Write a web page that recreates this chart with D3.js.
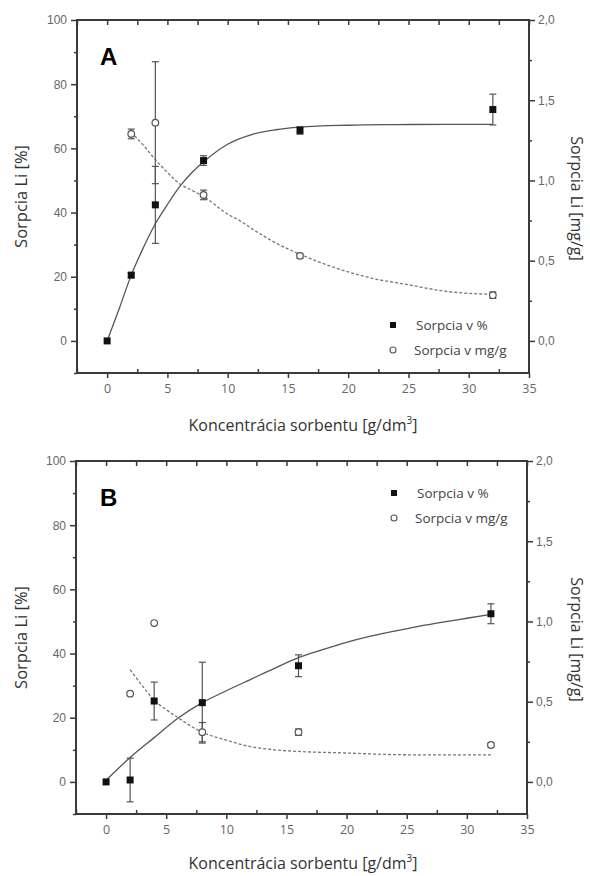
<!DOCTYPE html>
<html><head><meta charset="utf-8">
<script src="https://cdn.jsdelivr.net/npm/d3@7"></script>
<style>html,body{margin:0;padding:0;background:#fff;}svg{display:block;}</style>
</head><body>
<svg id="chart" width="590" height="876"></svg>
<script>
// ---------- data ----------
const xTicks = [0,5,10,15,20,25,30,35];
const leftTicks = [0,20,40,60,80,100];
const rightTicks = [0,0.5,1.0,1.5,2.0];
const rightTickLabels = ["0,0","0,5","1,0","1,5","2,0"];

// Panel A
const concA = [0,2,4,8,16,32];
const pctA = [0,20.5,42.4,56.2,65.6,72.1];
const pctErrA = [0,0.8,12,1.5,1.2,4.8];
const mgConcA = [2,4,8,16,32];
const mgA = [1.29,1.36,0.91,0.53,0.285];
const mgErrA = [0.03,0.38,0.03,0.015,0.02];
const fitPctXA = [0,1,2,3,4,5,6,7,8,10,12,14,16,20,24,28,32];
const fitPctYA = [0,10,20.5,29,36.5,42.5,48,52.3,55.8,61.3,64.3,65.8,66.6,67.2,67.4,67.5,67.5];
const fitMgXA = [2,3,4,5,6,7,8,10,11,12,14,16,18,20,22,25,28,32];
const fitMgYA = [1.30,1.22,1.13,1.05,0.98,0.94,0.90,0.79,0.75,0.70,0.61,0.54,0.48,0.43,0.39,0.35,0.31,0.29];

// Panel B
const concB = [0,2,4,8,16,32];
const pctB = [0,0.6,25.2,24.7,36.2,52.4];
const pctErrB = [0,6.8,5.9,12.6,3.4,3.1];
const mgConcB = [2,4,8,16,32];
const mgB = [0.55,0.99,0.31,0.31,0.23];
const mgErrB = [0,0,0.06,0.02,0.01];
const fitPctXB = [0,2,4,6,8,10,12,14,16,18,20,22,24,26,28,30,32];
const fitPctYB = [0.5,7.6,13.8,19.9,24.7,28.4,31.9,35.4,38.7,41.2,43.5,45.4,47,48.5,49.8,51,52.2];
const fitMgXB = [2,3,4,5,6,7,8,10,12,14,16,20,24,28,32];
const fitMgYB = [0.70,0.60,0.51,0.45,0.40,0.35,0.31,0.26,0.22,0.20,0.19,0.18,0.17,0.168,0.168];

const panels = [
  {label:"A", left:77, right:529, top:20, bottom:373, conc:concA, pct:pctA, pctErr:pctErrA,
   mgConc:mgConcA, mg:mgA, mgErr:mgErrA, fpx:fitPctXA, fpy:fitPctYA, fmx:fitMgXA, fmy:fitMgYA,
   legendX:393, legendY:325, titleY:431},
  {label:"B", left:76, right:527, top:461, bottom:814, conc:concB, pct:pctB, pctErr:pctErrB,
   mgConc:mgConcB, mg:mgB, mgErr:mgErrB, fpx:fitPctXB, fpy:fitPctYB, fmx:fitMgXB, fmy:fitMgYB,
   legendX:394, legendY:493, titleY:869}
];

const svg = d3.select("#chart");
const axisCol = "#3a3a3a", tickTxt = "#666";
const sansA = "'Liberation Sans', Arial, sans-serif";
const sansC = "'Open Sans', 'Noto Sans', sans-serif";

panels.forEach(p => {
  const g = svg.append("g");
  const x = d3.scaleLinear().domain([-2.5,35]).range([p.left,p.right]);
  const yL = d3.scaleLinear().domain([-10,100]).range([p.bottom,p.top]);
  const yR = d3.scaleLinear().domain([-0.2,2.0]).range([p.bottom,p.top]);

  const xMinor = d3.range(-2.5,35.01,2.5).filter(v=>Math.abs(v%5)>0.01);
  const yMinor = d3.range(-10,100.01,10).filter(v=>Math.abs(v%20)>0.01);
  const rMinor = [0.25,0.75,1.25,1.75];

  // bottom axis
  const bx = g.append("g").attr("transform",`translate(0,${p.bottom})`)
    .call(d3.axisBottom(x).tickValues(xTicks).tickSize(5).tickPadding(6).tickFormat(d3.format("d")));
  bx.select(".domain").remove();
  bx.selectAll("line").attr("stroke",axisCol).attr("stroke-width",1.5);
  bx.selectAll("text").attr("fill",tickTxt).style("font-family",sansC).style("font-size","12.5px");
  g.append("g").attr("transform",`translate(0,${p.bottom})`)
    .call(d3.axisBottom(x).tickValues(xMinor).tickSize(-4).tickFormat(""))
    .call(s=>{s.select(".domain").remove(); s.selectAll("line").attr("stroke",axisCol).attr("stroke-width",1.5);});
  // top axis (ticks inward)
  g.append("g").attr("transform",`translate(0,${p.top})`)
    .call(d3.axisTop(x).tickValues(xTicks.concat(xMinor)).tickSize(-5).tickFormat(""))
    .call(s=>{s.select(".domain").remove(); s.selectAll("line").attr("stroke",axisCol).attr("stroke-width",1.5);});

  // left axis
  const la = g.append("g").attr("transform",`translate(${p.left},0)`)
    .call(d3.axisLeft(yL).tickValues(leftTicks).tickSize(6).tickPadding(4));
  la.select(".domain").remove();
  la.selectAll("line").attr("stroke",axisCol).attr("stroke-width",1.5);
  la.selectAll("text").attr("fill",tickTxt).style("font-family",sansA).style("font-size","12px");
  g.append("g").attr("transform",`translate(${p.left},0)`)
    .call(d3.axisLeft(yL).tickValues(yMinor).tickSize(3).tickFormat(""))
    .call(s=>{s.select(".domain").remove(); s.selectAll("line").attr("stroke",axisCol).attr("stroke-width",1.5);});

  // right axis
  const ra = g.append("g").attr("transform",`translate(${p.right},0)`)
    .call(d3.axisRight(yR).tickValues(rightTicks).tickSize(6).tickPadding(3)
      .tickFormat((d,i)=>rightTickLabels[i]));
  ra.select(".domain").remove();
  ra.selectAll("line").attr("stroke",axisCol).attr("stroke-width",1.5);
  ra.selectAll("text").attr("fill",tickTxt).style("font-family",sansA).style("font-size","12px");
  g.append("g").attr("transform",`translate(${p.right},0)`)
    .call(d3.axisRight(yR).tickValues(rMinor).tickSize(3).tickFormat(""))
    .call(s=>{s.select(".domain").remove(); s.selectAll("line").attr("stroke",axisCol).attr("stroke-width",1.5);});

  // frame
  g.append("rect").attr("x",p.left).attr("y",p.top)
    .attr("width",p.right-p.left).attr("height",p.bottom-p.top)
    .attr("fill","none").attr("stroke",axisCol).attr("stroke-width",2);

  // fit lines
  const lineL = d3.line().x(d=>x(d[0])).y(d=>yL(d[1])).curve(d3.curveMonotoneX);
  const lineR = d3.line().x(d=>x(d[0])).y(d=>yR(d[1])).curve(d3.curveMonotoneX);
  g.append("path").datum(p.fpx.map((v,i)=>[v,p.fpy[i]])).attr("d",lineL)
    .attr("fill","none").attr("stroke","#555").attr("stroke-width",1.3);
  g.append("path").datum(p.fmx.map((v,i)=>[v,p.fmy[i]])).attr("d",lineR)
    .attr("fill","none").attr("stroke","#777").attr("stroke-width",1.3).attr("stroke-dasharray","3,2");

  // error bars
  function errBars(xs, ys, es, yS){
    xs.forEach((xv,i)=>{
      if(!es[i]) return;
      const cx = x(xv), y1 = yS(ys[i]-es[i]), y2 = yS(ys[i]+es[i]);
      g.append("line").attr("x1",cx).attr("x2",cx).attr("y1",y1).attr("y2",y2).attr("stroke","#555").attr("stroke-width",1.2);
      [y1,y2].forEach(yy=>g.append("line").attr("x1",cx-3.5).attr("x2",cx+3.5).attr("y1",yy).attr("y2",yy).attr("stroke","#555").attr("stroke-width",1.2));
    });
  }
  errBars(p.conc,p.pct,p.pctErr,yL);
  errBars(p.mgConc,p.mg,p.mgErr,yR);

  // circles
  g.selectAll(null).data(p.mgConc).enter().append("circle")
    .attr("cx",d=>x(d)).attr("cy",(d,i)=>yR(p.mg[i])).attr("r",3.3)
    .attr("fill","#fff").attr("stroke","#555").attr("stroke-width",1.2);
  // squares
  g.selectAll(null).data(p.conc).enter().append("rect")
    .attr("x",d=>x(d)-3.5).attr("y",(d,i)=>yL(p.pct[i])-3.5).attr("width",7).attr("height",7)
    .attr("fill","#111");

  // panel label
  g.append("text").attr("x",100).attr("y",p.top+45).text(p.label)
    .style("font-family",sansA).style("font-weight","bold").style("font-size","24px").attr("fill","#000");

  // legend
  g.append("rect").attr("x",p.legendX-3).attr("y",p.legendY-3).attr("width",6).attr("height",6).attr("fill","#111");
  g.append("circle").attr("cx",p.legendX).attr("cy",p.legendY+25).attr("r",3).attr("fill","#fff").attr("stroke","#555").attr("stroke-width",1.1);
  g.append("text").attr("x",p.legendX+23).attr("y",p.legendY+5).text("Sorpcia v %")
    .style("font-family",sansC).style("font-size","13.5px").attr("fill","#444");
  g.append("text").attr("x",p.legendX+21).attr("y",p.legendY+30).text("Sorpcia v mg/g")
    .style("font-family",sansC).style("font-size","13.5px").attr("fill","#444");

  // axis titles
  const cy = (p.top+p.bottom)/2;
  g.append("text").attr("transform",`translate(27,${cy}) rotate(-90)`).attr("text-anchor","middle")
    .text("Sorpcia Li [%]").style("font-family",sansC).style("font-size","16.5px").attr("fill","#333");
  g.append("text").attr("transform",`translate(571,${cy+2}) rotate(90)`).attr("text-anchor","middle")
    .text("Sorpcia Li [mg/g]").style("font-family",sansC).style("font-size","16px").attr("fill","#333");
  const xt = g.append("text").attr("x",303).attr("y",p.titleY).attr("text-anchor","middle")
    .style("font-family",sansC).style("font-size","16px").attr("fill","#333");
  xt.append("tspan").text("Koncentrácia sorbentu [g/dm");
  xt.append("tspan").text("3").attr("dy",-7).style("font-size","10px");
  xt.append("tspan").text("]").attr("dy",7);
});
</script>
</body></html>
